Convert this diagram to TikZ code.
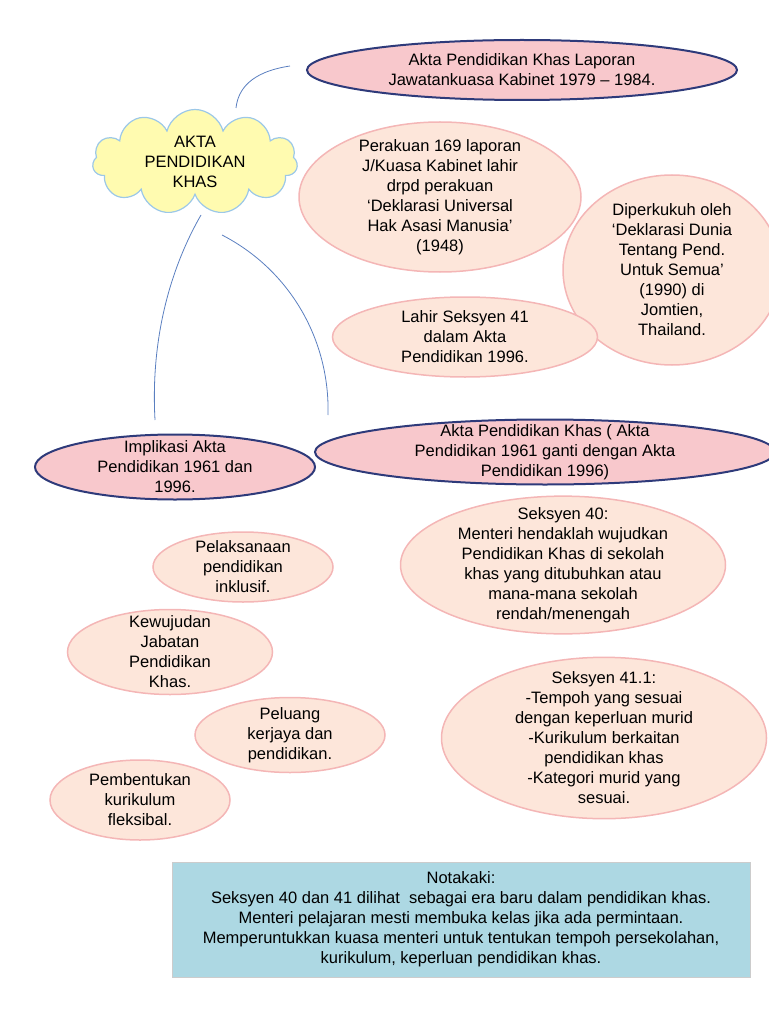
\documentclass[tikz,border=0pt]{standalone}
\usepackage{fontspec}
\setmainfont{Liberation Sans}
\usetikzlibrary{shapes.geometric,shapes.symbols}
\definecolor{dpink}{HTML}{F8C8CC}
\definecolor{navy}{HTML}{2E3A7A}
\definecolor{peach}{HTML}{FDE6DA}
\definecolor{pborder}{HTML}{F4B6B6}
\definecolor{lblue}{HTML}{ADD8E3}
\definecolor{cyel}{HTML}{FFFBB0}
\definecolor{cblue}{HTML}{9CC8E8}
\definecolor{lineb}{HTML}{5A7FC0}
\begin{document}
\begin{tikzpicture}[x=1pt,y=-1pt,
  every node/.style={font=\fontsize{16.5}{20}\selectfont, align=center, inner sep=0pt},
  big/.style={ellipse, draw=navy, line width=2pt, fill=dpink, inner sep=-9pt},
  small/.style={ellipse, draw=pborder, line width=1.5pt, fill=peach, inner sep=-9pt},
  wav/.style={draw=lineb, line width=0.8pt}]
\useasboundingbox (0,0) rectangle (768,1024);
\node[big, minimum width=430, minimum height=60] (a) at (522,70) {Akta Pendidikan Khas Laporan\\Jawatankuasa Kabinet 1979 – 1984.};
\node[cloud, cloud puffs=11, aspect=1.9, draw=cblue, line width=1.2pt, fill=cyel, minimum width=205, minimum height=105] (c) at (195,162) {AKTA\\PENDIDIKAN\\KHAS};
\node[small, minimum width=282, minimum height=150] (p) at (440,197) {Perakuan 169 laporan\\J/Kuasa Kabinet lahir\\drpd perakuan\\‘Deklarasi Universal\\Hak Asasi Manusia’\\(1948)};
\node[small, minimum width=218, minimum height=190] (d) at (672,270) {Diperkukuh oleh\\‘Deklarasi Dunia\\Tentang Pend.\\Untuk Semua’\\(1990) di\\Jomtien,\\Thailand.};
\node[small, minimum width=265, minimum height=80] (l) at (465,337) {Lahir Seksyen 41\\dalam Akta\\Pendidikan 1996.};
\node[big, minimum width=460, minimum height=65] (b) at (545,452) {Akta Pendidikan Khas ( Akta\\Pendidikan 1961 ganti dengan Akta\\Pendidikan 1996)};
\node[big, minimum width=280, minimum height=65] (i) at (175,467) {Implikasi Akta\\Pendidikan 1961 dan\\1996.};
\node[small, minimum width=325, minimum height=125] (s40) at (563,565) {Seksyen 40:\\Menteri hendaklah wujudkan\\Pendidikan Khas di sekolah\\khas yang ditubuhkan atau\\mana-mana sekolah\\rendah/menengah};
\node[small, minimum width=180, minimum height=70] (pl) at (243,567) {Pelaksanaan\\pendidikan\\inklusif.};
\node[small, minimum width=205, minimum height=85] (k) at (170,652) {Kewujudan\\Jabatan\\Pendidikan\\Khas.};
\node[small, minimum width=190, minimum height=75] (pe) at (290,735) {Peluang\\kerjaya dan\\pendidikan.};
\node[small, minimum width=180, minimum height=80] (pm) at (140,800) {Pembentukan\\kurikulum\\fleksibal.};
\node[small, minimum width=325, minimum height=150] (s41) at (604,738) {Seksyen 41.1:\\-Tempoh yang sesuai\\dengan keperluan murid\\-Kurikulum berkaitan\\pendidikan khas\\-Kategori murid yang\\sesuai.};
\node[draw=black!20, line width=1pt, fill=lblue, minimum width=578, minimum height=115] (n) at (461,919.5) {Notakaki:\\Seksyen 40 dan 41 dilihat\ \ sebagai era baru dalam pendidikan khas.\\Menteri pelajaran mesti membuka kelas jika ada permintaan.\\Memperuntukkan kuasa menteri untuk tentukan tempoh persekolahan,\\kurikulum, keperluan pendidikan khas.};
\coordinate (t1) at (236,108);
\coordinate (t2) at (290,66);
\coordinate (l1) at (201,215);
\coordinate (l2) at (155,420);
\coordinate (r1) at (222,235);
\coordinate (r2) at (328,415);
\draw[wav] (t1) .. controls (238,90) and (250,72) .. (t2);
\draw[wav] (l1) .. controls (175,260) and (150,330) .. (l2);
\draw[wav] (r1) .. controls (290,270) and (330,340) .. (r2);
\end{tikzpicture}
\end{document}
